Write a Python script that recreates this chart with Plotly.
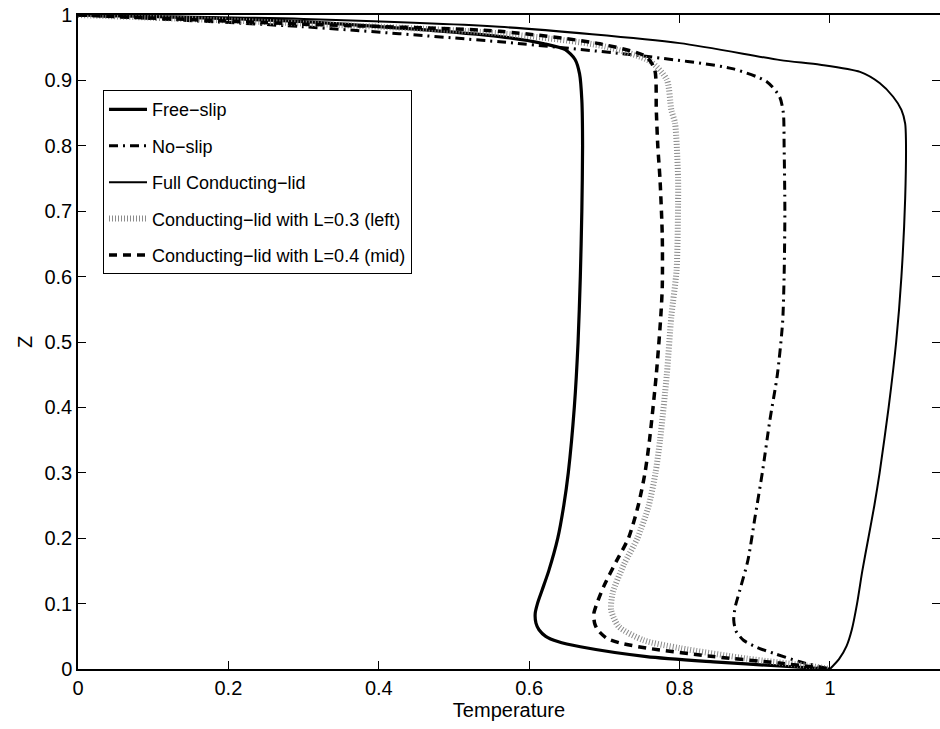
import plotly.graph_objects as go

# ---- data (Temperature, Z) ----
free_T = [0, 0.3, 0.561, 0.62, 0.648, 0.661, 0.667, 0.670, 0.671, 0.670, 0.668, 0.665, 0.660, 0.652, 0.646, 0.638, 0.626, 0.617, 0.611, 0.608, 0.609, 0.613, 0.622, 0.638, 0.668, 0.756, 0.845, 0.933, 1.0]
free_Z = [1, 0.99, 0.967, 0.956, 0.947, 0.932, 0.91, 0.87, 0.8, 0.7, 0.6, 0.5, 0.4, 0.3, 0.25, 0.2, 0.15, 0.12, 0.1, 0.085, 0.07, 0.06, 0.05, 0.042, 0.034, 0.019, 0.011, 0.0046, 0]

noslip_T = [0, 0.3, 0.561, 0.761, 0.87, 0.916, 0.933, 0.938, 0.939, 0.94, 0.939, 0.937, 0.93, 0.92, 0.91, 0.90, 0.891, 0.88, 0.874, 0.872, 0.875, 0.885, 0.903, 0.925, 0.96, 1.0]
noslip_Z = [1, 0.982, 0.959, 0.936, 0.918, 0.898, 0.875, 0.85, 0.8, 0.7, 0.6, 0.53, 0.45, 0.38, 0.3, 0.23, 0.167, 0.12, 0.095, 0.075, 0.058, 0.044, 0.033, 0.024, 0.011, 0]

full_T = [0, 0.3, 0.56, 0.8, 0.934, 0.987, 1.040, 1.066, 1.084, 1.095, 1.100, 1.101, 1.100, 1.095, 1.088, 1.078, 1.066, 1.059, 1.051, 1.043, 1.036, 1.029, 1.022, 1.012, 1.0]
full_Z = [1, 0.994, 0.982, 0.957, 0.931, 0.924, 0.913, 0.896, 0.875, 0.855, 0.834, 0.809, 0.72, 0.6, 0.5, 0.4, 0.3, 0.25, 0.2, 0.15, 0.1, 0.06, 0.035, 0.015, 0]

left_T = [0, 0.3, 0.561, 0.7, 0.761, 0.783, 0.789, 0.794, 0.798, 0.798, 0.796, 0.789, 0.783, 0.774, 0.768, 0.759, 0.744, 0.726, 0.711, 0.709, 0.719, 0.752, 0.80, 0.889, 0.977, 1.0]
left_Z = [1, 0.987, 0.972, 0.952, 0.929, 0.901, 0.855, 0.834, 0.75, 0.712, 0.61, 0.539, 0.45, 0.35, 0.3, 0.25, 0.2, 0.16, 0.116, 0.09, 0.065, 0.044, 0.032, 0.016, 0.004, 0]

mid_T = [0, 0.3, 0.561, 0.694, 0.756, 0.767, 0.769, 0.771, 0.774, 0.777, 0.777, 0.775, 0.769, 0.760, 0.754, 0.745, 0.732, 0.716, 0.699, 0.690, 0.686, 0.687, 0.691, 0.703, 0.72, 0.756, 0.845, 0.933, 1.0]
mid_Z = [1, 0.986, 0.975, 0.956, 0.936, 0.916, 0.855, 0.8, 0.748, 0.661, 0.585, 0.539, 0.45, 0.35, 0.3, 0.25, 0.2, 0.165, 0.126, 0.1, 0.085, 0.07, 0.06, 0.047, 0.04, 0.032, 0.019, 0.009, 0]

x_ticks = [0, 0.2, 0.4, 0.6, 0.8, 1]
x_labels = ["0", "0.2", "0.4", "0.6", "0.8", "1"]
y_ticks = [0, 0.1, 0.2, 0.3, 0.4, 0.5, 0.6, 0.7, 0.8, 0.9, 1]
y_labels = ["0", "0.1", "0.2", "0.3", "0.4", "0.5", "0.6", "0.7", "0.8", "0.9", "1"]

FONT = "Liberation Sans, Arial, Helvetica, sans-serif"
SM = 0.7

fig = go.Figure()
fig.add_trace(go.Scatter(x=free_T, y=free_Z, mode="lines", name="Free\u2212slip", legendgroup="a",
                         line=dict(color="black", width=3.2, shape="spline", smoothing=SM)))
fig.add_trace(go.Scatter(x=noslip_T, y=noslip_Z, mode="lines", name="No\u2212slip", legendgroup="b",
                         line=dict(color="black", width=3, dash="9px,5px,2px,5px", shape="spline", smoothing=SM)))
fig.add_trace(go.Scatter(x=full_T, y=full_Z, mode="lines", name="Full Conducting\u2212lid", legendgroup="c",
                         line=dict(color="black", width=2, shape="spline", smoothing=SM)))
fig.add_trace(go.Scatter(x=left_T, y=left_Z, mode="lines", name="Conducting\u2212lid with L=0.3 (left)", legendgroup="d",
                         line=dict(color="#8c8c8c", width=6, dash="1px,2px", shape="spline", smoothing=SM)))
fig.add_trace(go.Scatter(x=mid_T, y=mid_Z, mode="lines", name="Conducting\u2212lid with L=0.4 (mid)", legendgroup="e",
                         line=dict(color="black", width=3.5, dash="8px,6px", shape="spline", smoothing=SM)))

# helper axis for right-hand ticks (no right frame line)
fig.add_trace(go.Scatter(x=[None], y=[None], yaxis="y2", showlegend=False, hoverinfo="skip"))

fig.update_layout(
    width=940, height=729,
    margin=dict(l=78, r=0, t=15, b=60),
    paper_bgcolor="white", plot_bgcolor="white",
    font=dict(family=FONT, size=20, color="black"),
    showlegend=True,
    legend=dict(x=0.029, y=0.885, xanchor="left", yanchor="top",
                bordercolor="black", borderwidth=1, bgcolor="white",
                font=dict(family=FONT, size=18, color="black"),
                tracegroupgap=10, itemwidth=38),
    xaxis=dict(range=[0, 1.1463], tickvals=x_ticks, ticktext=x_labels,
               ticks="inside", ticklen=8, tickcolor="black", tickwidth=1,
               showline=True, linecolor="black", linewidth=1.5, mirror="ticks",
               showgrid=False, zeroline=False,
               title=dict(text="Temperature", standoff=0, font=dict(size=20))),
    yaxis=dict(range=[0, 1], tickvals=y_ticks, ticktext=y_labels,
               ticks="inside", ticklen=8, tickcolor="black", tickwidth=1,
               showline=True, linecolor="black", linewidth=1.5, mirror=False,
               showgrid=False, zeroline=False,
               title=dict(text="Z", standoff=6, font=dict(size=20))),
    yaxis2=dict(range=[0, 1], tickvals=y_ticks, overlaying="y", side="right",
                ticks="inside", ticklen=8, tickcolor="black", tickwidth=1,
                showticklabels=False, showline=False, showgrid=False, zeroline=False),
)

fig.write_html("out.html", config={"displayModeBar": False},
               post_script="document.body.style.margin='0';document.body.style.overflow='hidden';")
